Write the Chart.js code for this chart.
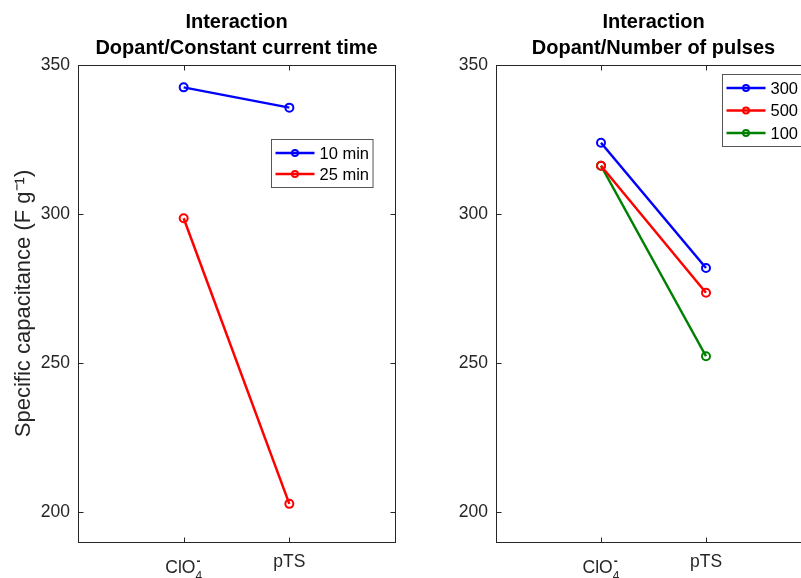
<!DOCTYPE html>
<html>
<head>
<meta charset="utf-8">
<script src="https://cdn.jsdelivr.net/npm/chart.js@4"></script>
<style>
  body { margin: 0; background: #fff; }
  #wrap { position: relative; width: 801px; height: 578px; overflow: hidden; }
  canvas { position: absolute; top: 0; }
</style>
</head>
<body>
<div id="wrap">
  <canvas id="left" width="420" height="578" style="left:0"></canvas>
  <canvas id="right" width="400" height="578" style="left:418px"></canvas>
</div>
<script>
const FONT = '"Liberation Sans", Arial, Helvetica, sans-serif';
const AXIS = '#262626';

// axis ticks
const xTicks = [1, 2];
const xLabels = ['ClO_4^-', 'pTS'];
const yTicks = [200, 250, 300, 350];

// left panel
const leftTitle = ['Interaction', 'Dopant/Constant current time'];
const leftNames = ['10 min', '25 min'];
const leftColors = ['#0000ff', '#ff0000'];
const min10 = [342.5, 335.7];
const min25 = [298.6, 202.8];

// right panel
const rightTitle = ['Interaction', 'Dopant/Number of pulses'];
const rightNames = ['300', '500', '100'];
const rightColors = ['#0000ff', '#ff0000', '#008000'];
const pulses300 = [323.9, 281.9];
const pulses500 = [316.2, 273.6];
const pulses100 = [316.2, 252.3];

function series(name, color, values) {
    return {
        label: name,
        data: values.map((v, i) => ({x: xTicks[i], y: v})),
        borderColor: color,
        backgroundColor: color,
        borderWidth: 2.5,
        pointRadius: 4,
        pointBorderWidth: 2,
        pointBackgroundColor: 'rgba(0,0,0,0)',
        pointBorderColor: color,
        tension: 0
    };
}

// MATLAB-like box, inward ticks, TeX-ish x labels and a boxed legend
const matlabAxes = {
    id: 'matlabAxes',
    afterDatasetsDraw(chart, args, opts) {
        const ctx = chart.ctx;
        const ca = chart.chartArea;
        const xs = chart.scales.x, ys = chart.scales.y;
        const L = Math.round(ca.left) + 0.5, R = Math.round(ca.right) + 0.5;
        const T = Math.round(ca.top) + 0.5, B = Math.round(ca.bottom) + 0.5;
        ctx.save();
        ctx.strokeStyle = AXIS;
        ctx.lineWidth = 1;
        ctx.strokeRect(L, T, R - L, B - T);
        ctx.beginPath();
        xTicks.forEach(v => {
            const px = Math.round(xs.getPixelForValue(v)) + 0.5;
            ctx.moveTo(px, B); ctx.lineTo(px, B - 5);
            ctx.moveTo(px, T); ctx.lineTo(px, T + 5);
        });
        yTicks.forEach(v => {
            const py = Math.round(ys.getPixelForValue(v)) + 0.5;
            ctx.moveTo(L, py); ctx.lineTo(L + 5, py);
            ctx.moveTo(R, py); ctx.lineTo(R - 5, py);
        });
        ctx.stroke();

        // x tick labels
        ctx.fillStyle = AXIS;
        ctx.textBaseline = 'alphabetic';
        ctx.textAlign = 'left';
        xLabels.forEach((lab, i) => {
            const px = xs.getPixelForValue(xTicks[i]);
            const m = lab.match(/^(.*?)_(\w)\^(.)$/);
            if (m) {
                ctx.font = '17.5px ' + FONT;
                const w1 = ctx.measureText(m[1]).width;
                ctx.font = '12px ' + FONT;
                const w2 = ctx.measureText(m[2]).width;
                const x0 = px - (w1 + w2) / 2;
                ctx.font = '17.5px ' + FONT;
                ctx.fillText(m[1], x0, ca.bottom + 31);
                ctx.font = 'bold 12px ' + FONT;
                ctx.fillText(m[3], x0 + w1 + 1, ca.bottom + 23);
                ctx.font = '12px ' + FONT;
                ctx.fillText(m[2], x0 + w1, ca.bottom + 38);
            } else {
                ctx.font = '17.5px ' + FONT;
                const w = ctx.measureText(lab).width;
                ctx.fillText(lab, px - w / 2, ca.bottom + 25);
            }
        });

        // legend
        const ds = chart.data.datasets;
        ctx.font = '16.5px ' + FONT;
        const tw = Math.max(...ds.map(d => ctx.measureText(d.label).width));
        const lx = Math.round(ca.left + opts.legendAt[0]) + 0.5;
        const ly = Math.round(ca.top + opts.legendAt[1]) + 0.5;
        const bw = 48 + tw + opts.padR, bh = 27 + (ds.length - 1) * opts.rowH;
        ctx.fillStyle = '#fff';
        ctx.fillRect(lx, ly, bw, bh);
        ctx.strokeStyle = '#555';
        ctx.lineWidth = 1;
        ctx.strokeRect(lx, ly, bw, bh);
        ds.forEach((d, i) => {
            const y = ly + 13.5 + i * opts.rowH;
            ctx.strokeStyle = d.borderColor;
            ctx.lineWidth = 2.5;
            ctx.beginPath();
            ctx.moveTo(lx + 4, y); ctx.lineTo(lx + 43, y);
            ctx.stroke();
            ctx.lineWidth = 2;
            ctx.beginPath();
            ctx.arc(lx + 23.5, y, 3, 0, Math.PI * 2);
            ctx.stroke();
            ctx.fillStyle = '#000';
            ctx.textBaseline = 'middle';
            ctx.fillText(d.label, lx + 48, y + 1);
        });
        ctx.restore();
    }
};

function makeChart(id, title, datasets, yTitle, legend, padRight) {
    return new Chart(document.getElementById(id), {
        type: 'line',
        data: {datasets},
        plugins: [matlabAxes],
        options: {
            responsive: false,
            animation: false,
            devicePixelRatio: 1,
            layout: {padding: {left: 0, right: padRight, top: 0, bottom: 0}},
            scales: {
                x: {
                    type: 'linear', min: 0, max: 3,
                    afterBuildTicks: s => { s.ticks = xTicks.map(v => ({value: v})); },
                    afterFit: s => { s.height = 36; },
                    grid: {display: false, drawTicks: false},
                    border: {display: false},
                    ticks: {display: false}
                },
                y: {
                    type: 'linear', min: 190, max: 350,
                    afterBuildTicks: s => { s.ticks = yTicks.map(v => ({value: v})); },
                    afterFit: s => { s.width = 78; },
                    grid: {display: false, drawTicks: false},
                    border: {display: false},
                    ticks: {color: AXIS, padding: 8, font: {family: FONT, size: 17.5}},
                    title: {
                        display: !!yTitle, text: yTitle, color: AXIS,
                        font: {family: FONT, size: 22, lineHeight: 1.2},
                        padding: {top: 11, bottom: 0}
                    }
                }
            },
            plugins: {
                legend: {display: false},
                tooltip: {enabled: false},
                title: {
                    display: true, text: title, color: '#000', fullSize: false,
                    font: {family: FONT, size: 20, weight: 'bold', lineHeight: 1.28},
                    padding: {top: 10, bottom: 3.8}
                },
                matlabAxes: legend
            }
        }
    });
}

makeChart('left', leftTitle, [
    series(leftNames[0], leftColors[0], min10),
    series(leftNames[1], leftColors[1], min25)
], 'Specific capacitance (F g\u207B\u00B9)', {legendAt: [193, 74], rowH: 21, padR: 4}, 25);

makeChart('right', rightTitle, [
    series(rightNames[0], rightColors[0], pulses300),
    series(rightNames[1], rightColors[1], pulses500),
    series(rightNames[2], rightColors[2], pulses100)
], '', {legendAt: [226, 9], rowH: 22.5, padR: 10}, 7);
</script>
</body>
</html>
